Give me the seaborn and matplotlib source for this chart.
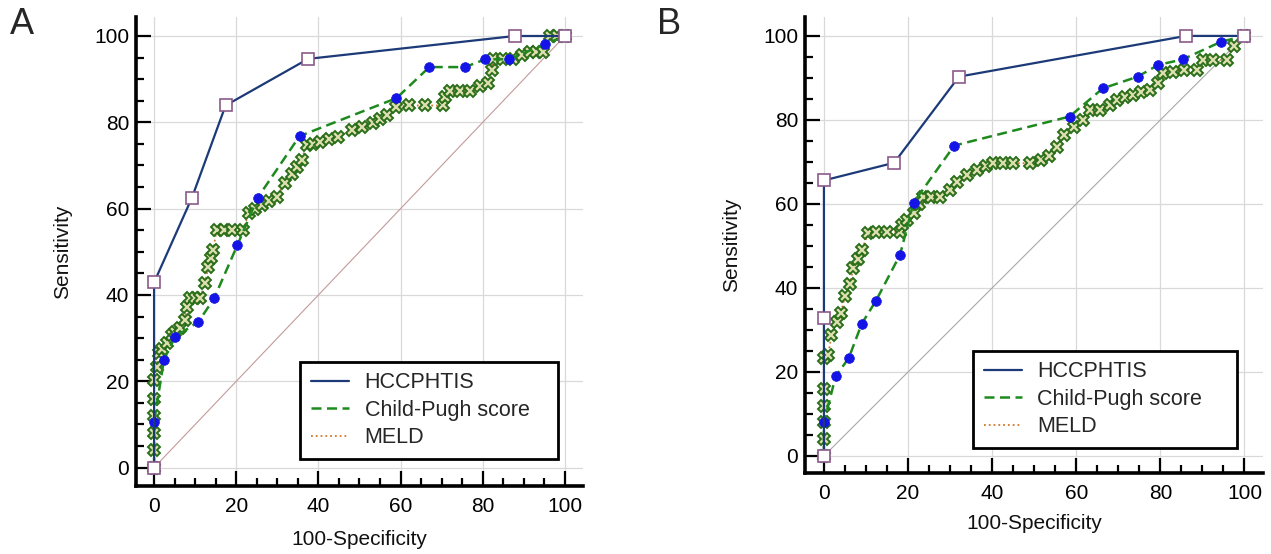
import matplotlib
matplotlib.use("Agg")
import matplotlib.pyplot as plt
from matplotlib.lines import Line2D
from matplotlib.ticker import MultipleLocator
import seaborn as sns
import pandas as pd

# ---------------- data ----------------
# Panel A
A_hcc_x = [0, 0, 9.2, 17.4, 37.5, 87.8, 100]
A_hcc_y = [0, 42.9, 62.5, 83.9, 94.7, 100, 100]

A_cp_x = [0, 0, 2.4, 5.1, 10.8, 14.6, 20.3, 25.2, 35.4, 59.0, 67.0, 75.7, 80.6, 86.4, 95.1, 100]
A_cp_y = [0, 10.6, 25.0, 30.3, 33.8, 39.2, 51.6, 62.5, 76.8, 85.6, 92.8, 92.8, 94.6, 94.6, 98.1, 100]

A_meld_x = [0, 0, 0, 0, 0, 0, 0.6, 1.1, 2.0, 3.1, 4.3, 5.2, 6.3, 7.5, 7.9, 8.8, 10.0, 11.2, 12.4, 13.2,
            13.8, 14.4, 15.2, 17.0, 19.0, 21.7, 23.0, 24.5, 26.2, 28.0, 29.8, 31.9, 33.5, 34.7, 35.9,
            37.1, 38.8, 40.4, 42.5, 44.8, 48.1, 50.5, 53.4, 55.0, 56.6, 59.0, 62.0, 66.0, 70.4, 70.8,
            72.0, 74.5, 76.9, 79.3, 81.3, 82.2, 82.6, 85.0, 87.4, 89.5, 91.5, 93.0, 94.7, 96.4, 98.0, 100]
A_meld_y = [0, 4, 8, 12, 16, 20.3, 23.4, 26.5, 27.5, 28.8, 30.7, 31.5, 32.3, 34.2, 37.3, 39.2, 39.2, 39.2, 42.7, 46.6,
            48.5, 50.4, 55.1, 55.1, 55.1, 55.1, 58.9, 60.0, 60.8, 61.8, 62.8, 65.9, 68.0, 69.7, 71.3,
            74.7, 75.0, 75.5, 76.2, 76.7, 78.2, 79.0, 79.8, 80.8, 81.7, 83.6, 83.9, 83.9, 83.9, 85.9,
            87.3, 87.3, 87.3, 88.3, 89.2, 92.1, 94.6, 94.6, 94.6, 95.5, 96.4, 96.4, 96.4, 100, 100, 100]

# Panel B
B_hcc_x = [0, 0, 0, 16.7, 32.1, 86.1, 100]
B_hcc_y = [0, 32.9, 65.6, 69.8, 90.3, 100, 100]

B_cp_x = [0, 0, 2.8, 5.9, 9.0, 12.4, 18.1, 21.3, 31.0, 58.4, 66.3, 74.6, 79.5, 85.3, 94.4, 100]
B_cp_y = [0, 8.0, 19.0, 23.3, 31.5, 37.0, 47.9, 60.3, 73.9, 80.8, 87.5, 90.3, 93.1, 94.4, 98.6, 100]

B_meld_x = [0, 0, 0, 0, 0, 0, 1.0, 1.8, 3.0, 4.0, 5.0, 6.2, 7.0, 8.0, 9.0, 10.5, 12.5, 15.0, 18.0, 18.6,
            19.7, 21.3, 22.5, 23.6, 25.5, 27.6, 30.0, 31.6, 34.0, 36.3, 38.5, 40.3, 42.5, 45.0, 49.0,
            51.5, 53.5, 55.3, 57.0, 59.5, 61.7, 63.3, 65.7, 68.0, 69.6, 71.5, 73.6, 75.5, 77.6, 79.5,
            80.7, 83.0, 85.5, 88.7, 90.2, 92.5, 95.8, 97.4, 100]
B_meld_y = [0, 4, 8, 12, 16, 23.3, 24.0, 28.8, 32.0, 34.0, 38.0, 41.0, 44.7, 47.0, 49.0, 53.0, 53.4, 53.4, 53.4, 55.0,
            56.2, 57.8, 60.0, 61.7, 61.7, 61.7, 63.3, 65.3, 66.8, 68.1, 69.0, 69.7, 69.7, 69.7, 69.7,
            70.5, 71.5, 73.6, 76.4, 78.3, 80.0, 82.4, 82.4, 83.6, 84.8, 85.4, 86.0, 86.6, 87.1, 88.7,
            91.1, 91.5, 91.9, 91.9, 94.3, 94.3, 94.3, 97.5, 100]

series_names = ["HCCPHTIS", "Child-Pugh score", "MELD"]
ticks = [0, 20, 40, 60, 80, 100]
xlabel_text = "100-Specificity"
ylabel_text = "Sensitivity"

# ---------------- style ----------------
sns.set_theme(style="white")
plt.rcParams["font.family"] = ["Liberation Sans", "DejaVu Sans"]

C_HCC = "#1c3a78"
C_SQ_EDGE = "#8a5a8a"
C_CP = "#1e8a1e"
C_DOT = "#1414e6"
C_MELD = "#d0782a"
C_X = "#2a6e1a"

fig = plt.figure(figsize=(12.71, 5.54), dpi=100)
W, H = 1271, 554

axA = fig.add_axes([136 / W, 1 - 486 / H, (583 - 136) / W, (486 - 17) / H])
axB = fig.add_axes([805 / W, 1 - 473 / H, (1263 - 805) / W, (473 - 17) / H])


def draw(ax, hx, hy, cx, cy, mx, my, diag_color, xlim, ylim, leg_box, xlabelpad):
    ax.grid(True, which="major", color="#d9d9d9", lw=0.9)
    ax.set_axisbelow(True)
    diag = pd.DataFrame({"x": [0, 100], "y": [0, 100]})
    sns.lineplot(data=diag, x="x", y="y", ax=ax, color=diag_color, lw=0.8,
                 estimator=None, sort=False)
    dm = pd.DataFrame({"x": mx, "y": my})
    sns.lineplot(data=dm, x="x", y="y", ax=ax, color=C_MELD, lw=1.3, ls=":",
                 estimator=None, sort=False, marker="X", markersize=8.5,
                 markerfacecolor="#dfe0b0", markeredgecolor=C_X, markeredgewidth=1.4)
    dc = pd.DataFrame({"x": cx, "y": cy})
    sns.lineplot(data=dc, x="x", y="y", ax=ax, color=C_CP, lw=1.8, ls=(0, (4, 2.2)),
                 estimator=None, sort=False, marker="o", markersize=7,
                 markerfacecolor=C_DOT, markeredgecolor=C_DOT, markeredgewidth=0.5)
    dh = pd.DataFrame({"x": hx, "y": hy})
    sns.lineplot(data=dh, x="x", y="y", ax=ax, color=C_HCC, lw=1.6,
                 estimator=None, sort=False, marker="s", markersize=8.5,
                 markerfacecolor="white", markeredgecolor=C_SQ_EDGE, markeredgewidth=1.2)

    ax.set_xlim(*xlim)
    ax.set_ylim(*ylim)
    ax.set_xticks(ticks)
    ax.set_yticks(ticks)
    ax.xaxis.set_minor_locator(MultipleLocator(5))
    ax.yaxis.set_minor_locator(MultipleLocator(5))
    ax.tick_params(which="major", direction="in", length=11, width=1.6, labelsize=15,
                   colors="black")
    ax.tick_params(which="minor", direction="in", length=5.5, width=1.6, colors="black")
    ax.tick_params(axis="x", which="both", bottom=True, pad=8)
    ax.tick_params(axis="y", which="both", left=True, pad=5)
    for s in ["top", "right"]:
        ax.spines[s].set_visible(False)
    for s in ["left", "bottom"]:
        ax.spines[s].set_linewidth(2.6)
        ax.spines[s].set_color("black")
    ax.set_xlabel(xlabel_text, fontsize=15, labelpad=xlabelpad, color="#111111")
    ax.set_ylabel(ylabel_text, fontsize=15, labelpad=16, color="#111111")

    handles = [Line2D([], [], color=C_HCC, lw=1.6),
               Line2D([], [], color=C_CP, lw=1.8, ls=(0, (4, 2.2))),
               Line2D([], [], color=C_MELD, lw=1.3, ls=":")]
    leg = ax.legend(handles, series_names, loc="lower left", bbox_to_anchor=leg_box,
                    bbox_transform=ax.transData, mode="expand", fontsize=15.5, frameon=True,
                    fancybox=False, handlelength=1.8, handletextpad=0.7, labelspacing=0.3,
                    borderpad=0.5, borderaxespad=0)
    leg.get_frame().set_edgecolor("black")
    leg.get_frame().set_linewidth(2.0)
    leg.get_frame().set_alpha(1)


draw(axA, A_hcc_x, A_hcc_y, A_cp_x, A_cp_y, A_meld_x, A_meld_y, "#c49a9a",
     (-4.4, 104.4), (-4.25, 104.4), (35.5, 2.0, 62.8, 0), 10)
draw(axB, B_hcc_x, B_hcc_y, B_cp_x, B_cp_y, B_meld_x, B_meld_y, "#a8a8a8",
     (-4.5, 104.4), (-4.05, 104.5), (35.4, 1.9, 62.8, 0), 8)

fig.text(10 / W, 1 - 25 / H, "A", fontsize=26, va="center", ha="left")
fig.text(657 / W, 1 - 25 / H, "B", fontsize=26, va="center", ha="left")

fig.savefig("out.png", dpi=100)
